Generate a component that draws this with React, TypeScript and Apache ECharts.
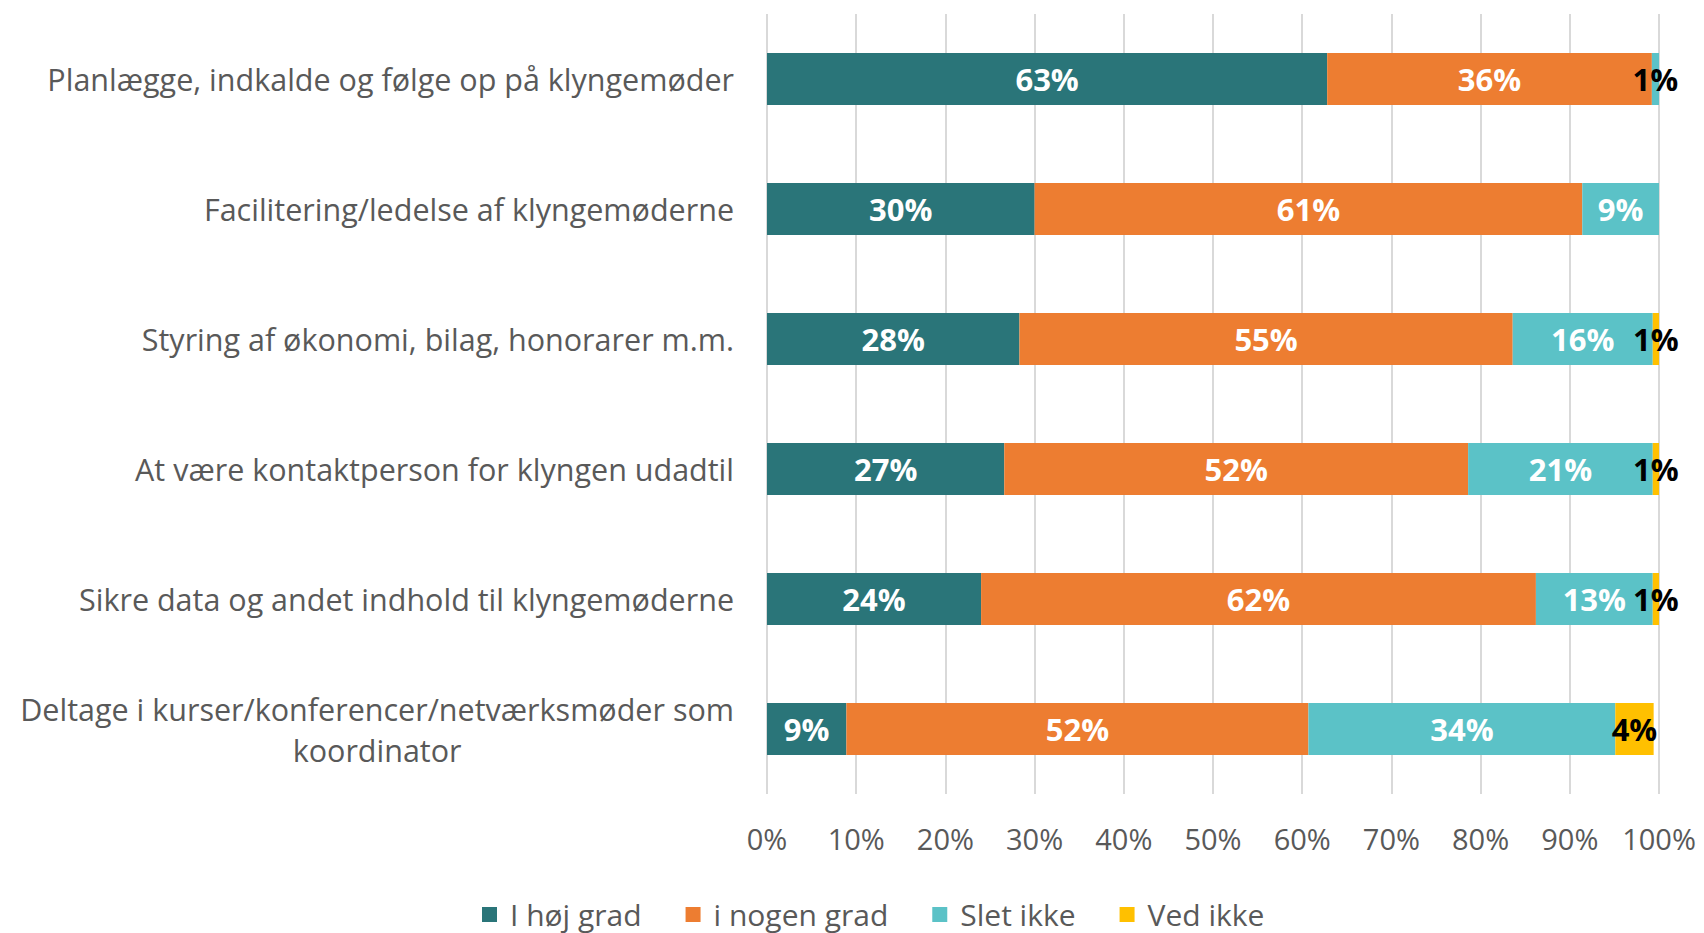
import React, { useEffect, useRef } from "react";
import * as echarts from "echarts";

const categories = [
  "Planlægge, indkalde og følge op på klyngemøder",
  "Facilitering/ledelse af klyngemøderne",
  "Styring af økonomi, bilag, honorarer m.m.",
  "At være kontaktperson for klyngen udadtil",
  "Sikre data og andet indhold til klyngemøderne",
  "Deltage i kurser/konferencer/netværksmøder som\nkoordinator",
];
const seriesNames = ["I høj grad", "i nogen grad", "Slet ikke", "Ved ikke"];
const hojGrad = [62.8, 30.0, 28.3, 26.6, 24.0, 8.9];
const nogenGrad = [36.4, 61.4, 55.3, 52.0, 62.2, 51.8];
const sletIkke = [0.8, 8.6, 15.7, 20.7, 13.1, 34.4];
const vedIkke = [0, 0, 0.7, 0.7, 0.7, 4.3];
const xTicks = [0, 10, 20, 30, 40, 50, 60, 70, 80, 90, 100];

const colors = ["#2A7579", "#ED7D31", "#5BC2C7", "#FFC000"];
const FONT = "Open Sans";

export default function App() {
  const ref = useRef<HTMLDivElement>(null);
  useEffect(() => {
    document.body.style.margin = "0";
    const chart = echarts.init(ref.current!, null, { renderer: "svg" });
    const values = [hojGrad, nogenGrad, sletIkke, vedIkke];
    const darkLabel = (si: number, v: number) => si === 3 || (si === 2 && v < 2);
    chart.setOption({
      animation: false,
      color: colors,
      grid: { left: 767, right: 45, top: 14, height: 780 },
      legend: {
        data: seriesNames,
        left: 482,
        top: 899,
        padding: 0,
        icon: "rect",
        itemWidth: 15,
        itemHeight: 15,
        itemGap: 44,
        textStyle: {
          fontFamily: FONT,
          fontSize: 30,
          lineHeight: 31,
          color: "#595959",
          padding: [0, 0, 0, 8],
        },
      },
      xAxis: {
        type: "value",
        min: 0,
        max: 100,
        interval: 10,
        axisLine: { show: false },
        axisTick: { show: false },
        splitLine: { lineStyle: { color: "#d9d9d9", width: 2 } },
        axisLabel: {
          formatter: (v: number) => (xTicks.includes(v) ? v + "%" : ""),
          fontFamily: FONT,
          fontSize: 29,
          color: "#595959",
          margin: 30,
        },
      },
      yAxis: {
        type: "category",
        data: categories,
        inverse: true,
        axisLine: { show: false },
        axisTick: { show: false },
        axisLabel: {
          margin: 33,
          fontFamily: FONT,
          fontSize: 30.5,
          color: "#595959",
          lineHeight: 41,
          formatter: (s: string) =>
            s
              .split("\n")
              .map((l) => "{c|" + l + "}")
              .join("\n"),
          rich: {
            c: { align: "center", fontFamily: FONT, fontSize: 30.5, color: "#595959", lineHeight: 41 },
          },
        },
      },
      series: seriesNames.map((name, si) => ({
        name,
        type: "bar",
        stack: "total",
        barWidth: 52,
        data: values[si].map((v) => ({
          value: v,
          label: {
            show: v > 0,
            color: darkLabel(si, v) ? "#000000" : "#ffffff",
          },
        })),
        label: {
          show: true,
          position: "inside",
          fontFamily: FONT,
          fontWeight: "bold",
          fontSize: 31,
          formatter: (p: any) => Math.round(p.value) + "%",
        },
        itemStyle: { borderWidth: 0 },
      })),
    });
    return () => chart.dispose();
  }, []);
  return <div ref={ref} style={{ width: 1704, height: 933 }} />;
}
